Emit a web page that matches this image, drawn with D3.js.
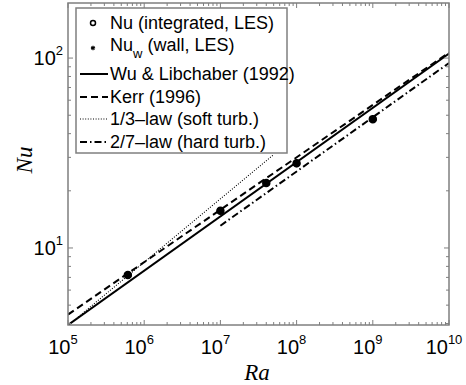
<!DOCTYPE html>
<html>
<head>
<meta charset="utf-8">
<script src="https://cdn.jsdelivr.net/npm/d3@7"></script>
<style>
  body { margin: 0; background: #fff; }
  text { font-family: "Liberation Sans", Arial, sans-serif; }
  text.axlabel { font-family: "Liberation Serif", "DejaVu Serif", serif; font-style: italic; }
</style>
</head>
<body>
<script>
// données
const raLes = [6.1e5, 1e7, 4e7, 1e8, 1e9]
const nuLes = [7.2, 15.7, 22.0, 27.9, 47.7]
const nuWall = [7.2, 15.7, 22.0, 27.9, 47.7]

// lois de référence (extrémités des droites)
const wuRa = [1e5, 1e10]
const wuNu = [3.93, 105.7]
const kerrRa = [1e5, 1e10]
const kerrNu = [4.46, 107]
const thirdRa = [1e5, 4.9e7]
const thirdNu = [3.91, 30.8]
const twoSevRa = [1e7, 1e10]
const twoSevNu = [13.1, 94.2]

const xTicks = [1e5, 1e6, 1e7, 1e8, 1e9, 1e10]
const yTicks = [1e1, 1e2]

const legendLabels = ["Nu (integrated, LES)", "Nu_w (wall, LES)", "Wu & Libchaber (1992)", "Kerr (1996)", "1/3\u2013law (soft turb.)", "2/7\u2013law (hard turb.)"]

const W = 466, H = 385
const pLeft = 68, pRight = 449, pTop = 3, pBottom = 325

let svg = d3.select("body")
    .append("svg")
    .attr("width", W)
    .attr("height", H)

const x = d3.scaleLog().domain([1e5, 1e10]).range([pLeft, pRight])
const y = d3.scaleLog().domain([3.93, 195]).range([pBottom, pTop])

svg.append("clipPath").attr("id", "clip")
    .append("rect")
    .attr("x", pLeft).attr("y", pTop)
    .attr("width", pRight - pLeft).attr("height", pBottom - pTop)

const plot = svg.append("g").attr("clip-path", "url(#clip)")

const line = d3.line().x(d => x(d[0])).y(d => y(d[1]))
const styles = [
    { ra: wuRa, nu: wuNu, dash: null, w: 2 },
    { ra: kerrRa, nu: kerrNu, dash: "7,4", w: 2 },
    { ra: thirdRa, nu: thirdNu, dash: "1,1.6", w: 1.1 },
    { ra: twoSevRa, nu: twoSevNu, dash: "7,3,1.5,3", w: 2 }
]
styles.forEach(s => {
    plot.append("path")
        .attr("d", line(d3.zip(s.ra, s.nu)))
        .attr("fill", "none")
        .attr("stroke", "#000")
        .attr("stroke-width", s.w)
        .attr("stroke-dasharray", s.dash)
})

// points LES
plot.selectAll("circle.les")
    .data(d3.zip(raLes, nuLes))
    .enter()
    .append("circle")
    .attr("class", "les")
    .attr("cx", d => x(d[0]))
    .attr("cy", d => y(d[1]))
    .attr("r", 3.5)
    .attr("fill", "#000")
    .attr("stroke", "#000")
    .attr("stroke-width", 1.5)

const star = d3.symbol().type(d3.symbolAsterisk).size(40)
plot.selectAll("path.wall")
    .data(d3.zip(raLes, nuWall))
    .enter()
    .append("path")
    .attr("class", "wall")
    .attr("d", star)
    .attr("transform", d => `translate(${x(d[0])},${y(d[1])})`)
    .attr("stroke", "#000")
    .attr("stroke-width", 1.5)

// axes (boîte avec graduations vers l'intérieur)
const axisColor = "#7f7f7f"
const ax = svg.append("g").attr("stroke", axisColor).attr("fill", "none")
ax.append("rect")
    .attr("x", pLeft).attr("y", pTop)
    .attr("width", pRight - pLeft).attr("height", pBottom - pTop)
    .attr("stroke-width", 1.5)

const xMinor = []
for (let e = 5; e < 10; e++) for (let k = 2; k <= 9; k++) xMinor.push(k * Math.pow(10, e))
const yMinor = []
for (let e = 0; e < 3; e++) for (let k = 2; k <= 9; k++) {
    const v = k * Math.pow(10, e)
    if (v > 3.93 && v < 195) yMinor.push(v)
}

xTicks.forEach(t => {
    ax.append("line").attr("x1", x(t)).attr("x2", x(t)).attr("y1", pBottom).attr("y2", pBottom - 5)
    ax.append("line").attr("x1", x(t)).attr("x2", x(t)).attr("y1", pTop).attr("y2", pTop + 5)
})
xMinor.forEach(t => {
    ax.append("line").attr("x1", x(t)).attr("x2", x(t)).attr("y1", pBottom).attr("y2", pBottom - 3)
    ax.append("line").attr("x1", x(t)).attr("x2", x(t)).attr("y1", pTop).attr("y2", pTop + 3)
})
yTicks.forEach(t => {
    ax.append("line").attr("y1", y(t)).attr("y2", y(t)).attr("x1", pLeft).attr("x2", pLeft + 5)
    ax.append("line").attr("y1", y(t)).attr("y2", y(t)).attr("x1", pRight).attr("x2", pRight - 5)
})
yMinor.forEach(t => {
    ax.append("line").attr("y1", y(t)).attr("y2", y(t)).attr("x1", pLeft).attr("x2", pLeft + 3)
    ax.append("line").attr("y1", y(t)).attr("y2", y(t)).attr("x1", pRight).attr("x2", pRight - 3)
})

// étiquettes des graduations
xTicks.forEach(t => {
    const tx = svg.append("text")
        .attr("x", x(t) - 5)
        .attr("y", 354)
        .attr("text-anchor", "middle")
        .attr("font-size", 20)
    tx.append("tspan").text("10")
    tx.append("tspan").attr("dy", -10).attr("font-size", 13).text(Math.round(Math.log10(t)))
})
yTicks.forEach(t => {
    const ty = svg.append("text")
        .attr("x", 63)
        .attr("y", y(t) + 7)
        .attr("text-anchor", "end")
        .attr("font-size", 20)
    ty.append("tspan").text("10")
    ty.append("tspan").attr("dy", -10).attr("font-size", 13).text(Math.round(Math.log10(t)))
})

// titres des axes
svg.append("text")
    .attr("class", "axlabel")
    .attr("x", 257).attr("y", 380)
    .attr("text-anchor", "middle")
    .attr("font-size", 23)
    .text("Ra")
svg.append("text")
    .attr("class", "axlabel")
    .attr("transform", "translate(32,160) rotate(-90)")
    .attr("text-anchor", "middle")
    .attr("font-size", 23)
    .text("Nu")

// légende
const leg = svg.append("g")
leg.append("rect")
    .attr("x", 76).attr("y", 8)
    .attr("width", 211).attr("height", 145)
    .attr("fill", "#fff")
    .attr("stroke", axisColor)
    .attr("stroke-width", 1.5)

const rowY = [23, 45, 74, 97, 119, 142]
leg.append("circle").attr("cx", 93).attr("cy", rowY[0]).attr("r", 2.5)
    .attr("fill", "none").attr("stroke", "#000").attr("stroke-width", 1.5)
leg.append("path").attr("d", d3.symbol().type(d3.symbolAsterisk).size(14))
    .attr("transform", `translate(93,${rowY[1] + 3})`)
    .attr("stroke", "#000").attr("stroke-width", 1.2)
styles.forEach((s, i) => {
    leg.append("line")
        .attr("x1", 80).attr("x2", 108)
        .attr("y1", rowY[i + 2]).attr("y2", rowY[i + 2])
        .attr("stroke", "#000")
        .attr("stroke-width", s.w)
        .attr("stroke-dasharray", s.dash)
})
legendLabels.forEach((lab, i) => {
    const t = leg.append("text")
        .attr("x", 110)
        .attr("y", rowY[i] + 6)
        .attr("font-size", 18)
        .attr("textLength", null)
    if (lab.startsWith("Nu_w")) {
        t.append("tspan").text("Nu")
        t.append("tspan").attr("dy", 7).attr("font-size", 13).text("w")
        t.append("tspan").attr("dy", -7).text(lab.slice(4))
    } else {
        t.text(lab)
    }
})
</script>
</body>
</html>
